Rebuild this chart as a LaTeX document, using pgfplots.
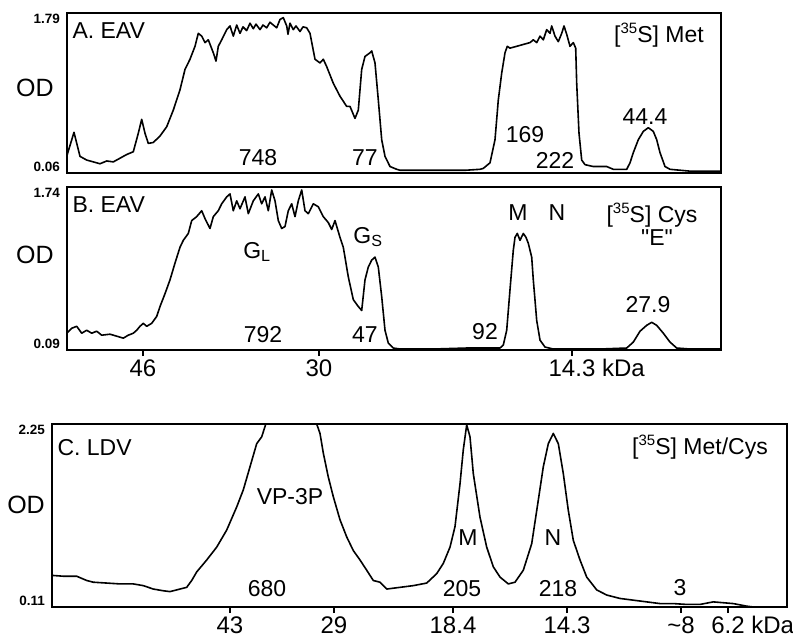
\documentclass[border=0pt]{standalone}
\usepackage{fontspec}
\setmainfont{Liberation Sans}
\newfontfamily\qfont{Liberation Sans}[Ligatures=TeXOff]
\usepackage{pgfplots}
\pgfplotsset{compat=1.18}
\newcommand\lab{\fontsize{23}{23}\selectfont}
\newcommand\num{\fontsize{23}{23}\selectfont}
\newcommand\odf{\fontsize{25}{25}\selectfont}
\newcommand\supx[1]{\raisebox{0.42em}{\fontsize{15}{15}\selectfont #1}}
\begin{document}
\begin{tikzpicture}
\useasboundingbox (0pt,-640pt) rectangle (793pt,0pt);
\pgfplotsset{
  panel/.style={
    scale only axis,
    axis line style={line width=1.6pt},
    xtick style={line width=1.2pt, black},
    ytick style={draw=none},
    xtick pos=bottom,
    tick align=outside,
    major tick length=6pt,
    /pgf/number format/assume math mode=true,
    yticklabel style={font=\fontsize{13.5}{13.5}\selectfont\bfseries, inner sep=1pt, anchor=south east},
    extra y tick style={yticklabel style={anchor=north east}},
    xticklabel style={font=\fontsize{24}{24}\selectfont},
    cycle list={{black}},
    every axis plot/.append style={line width=1.6pt, line join=round},
  }
}
% Panel A
\begin{axis}[panel, at={(67pt,-173pt)}, anchor=south west, width=654pt, height=160pt,
  xmin=67, xmax=721, ymin=0.06, ymax=1.79, xtick=\empty,
  ytick={0.06}, yticklabels={0.06}, extra y ticks={1.79}, extra y tick labels={1.79}]
\addplot coordinates {(66.7,0.24)(74,0.50)(80,0.24)(86.7,0.20)(100,0.16)(106.7,0.19)(113.3,0.18)(126.7,0.26)(133.3,0.29)(138.3,0.49)(141.7,0.64)(145,0.49)(148.3,0.38)(153.3,0.39)(160,0.46)(166.7,0.56)(173.3,0.74)(180,0.96)(185,1.18)(190,1.29)(195,1.43)(198.3,1.57)(201.7,1.54)(205,1.47)(208.3,1.50)(213.3,1.36)(216,1.27)(218.3,1.43)(221.7,1.50)(226.7,1.61)(230,1.65)(233.3,1.54)(236.7,1.66)(240,1.57)(243,1.64)(246.7,1.60)(250,1.68)(253.3,1.62)(256,1.67)(260,1.61)(263,1.66)(266.7,1.63)(270,1.69)(273.3,1.66)(276.7,1.63)(280,1.72)(283.3,1.74)(286.7,1.65)(288,1.56)(290,1.68)(293.3,1.61)(296,1.65)(300,1.59)(303,1.64)(306.7,1.63)(310,1.57)(315,1.29)(320,1.25)(323.3,1.29)(326.7,1.21)(333.3,1.03)(340,0.89)(346.7,0.78)(350,0.78)(355,0.65)(358.3,0.74)(361.7,1.18)(365,1.32)(370,1.36)(371.7,1.38)(375,1.25)(378.3,0.85)(381.7,0.42)(385,0.24)(390,0.13)(396.7,0.10)(400,0.09)(433,0.09)(466,0.09)(480,0.10)(483.3,0.11)(490,0.17)(495,0.42)(498.3,0.85)(501.7,1.14)(505,1.36)(507.3,1.43)(510,1.41)(516.7,1.43)(523.3,1.45)(530,1.47)(533.3,1.50)(536.7,1.47)(540,1.54)(543.3,1.50)(546.7,1.61)(550,1.57)(551.7,1.65)(555,1.54)(558.3,1.48)(561.7,1.57)(564,1.65)(566.7,1.56)(570,1.43)(573.3,1.47)(575.7,1.41)(576.7,1.03)(579,0.49)(581.7,0.20)(585,0.15)(593.3,0.13)(606.7,0.13)(613.3,0.10)(626.7,0.10)(630,0.17)(633.3,0.28)(638.3,0.42)(643.3,0.51)(648.3,0.55)(653.3,0.51)(656.7,0.42)(660,0.28)(665,0.13)(670,0.10)(680,0.09)(690,0.08)(720,0.08)};
\end{axis}
% Panel B
\begin{axis}[panel, at={(67pt,-350pt)}, anchor=south west, width=654pt, height=163pt,
  xmin=67, xmax=721, ymin=0.09, ymax=1.74,
  xtick={143,319,572}, xticklabels={46,30,14.3\rlap{ kDa}},
  ytick={0.09}, yticklabels={0.09}, extra y ticks={1.74}, extra y tick labels={1.74}]
\addplot coordinates {(66.7,0.26)(71.7,0.31)(76.7,0.33)(81.7,0.26)(86.7,0.29)(91.7,0.26)(96.7,0.28)(101.7,0.24)(110,0.25)(116.7,0.23)(123.3,0.21)(128.3,0.24)(133.3,0.26)(136.7,0.29)(140,0.33)(143.3,0.36)(146.7,0.33)(151.7,0.36)(156.7,0.43)(160,0.53)(165,0.66)(170,0.80)(175,0.97)(180,1.13)(183.3,1.20)(188.3,1.27)(191.7,1.40)(196.7,1.44)(201.7,1.50)(205,1.42)(210,1.32)(213.3,1.44)(218.3,1.50)(221.7,1.57)(226.7,1.64)(230,1.67)(233.3,1.50)(236.7,1.60)(240,1.52)(245,1.64)(248.3,1.47)(253.3,1.60)(258.3,1.67)(261.7,1.57)(265,1.64)(268.3,1.50)(271.7,1.71)(275,1.60)(278.3,1.40)(281.7,1.32)(285,1.34)(288.3,1.50)(291.7,1.57)(295,1.44)(298.3,1.60)(301.7,1.71)(305,1.50)(308.3,1.47)(313.3,1.57)(318.3,1.54)(323.3,1.44)(328.3,1.38)(331.7,1.31)(335,1.40)(340,1.23)(343.3,1.13)(348.3,0.83)(353.3,0.60)(358.3,0.53)(361.7,0.49)(365,0.80)(368.3,0.93)(371.7,1.00)(375,1.03)(378.3,0.93)(381.7,0.63)(385,0.29)(388.3,0.16)(393.3,0.11)(400,0.10)(433.3,0.10)(466.7,0.11)(500,0.11)(503.3,0.14)(506.7,0.29)(510,0.70)(513.3,1.10)(515,1.23)(517.3,1.27)(520,1.20)(523.3,1.27)(526,1.23)(528.3,1.17)(531.7,1.03)(533.3,0.80)(536.7,0.39)(540,0.19)(545,0.12)(553.3,0.10)(573.3,0.10)(600,0.10)(626.7,0.11)(633.3,0.17)(640,0.28)(646.7,0.34)(651.7,0.37)(656.7,0.34)(663.3,0.26)(670,0.17)(676.7,0.11)(690,0.10)(720,0.10)};
\end{axis}
% Panel C
\begin{axis}[panel, at={(52pt,-607pt)}, anchor=south west, width=735pt, height=183pt,
  xmin=52, xmax=787, ymin=0.11, ymax=2.25,
  xtick={230,334,453,567,681,728}, xticklabels={43,29,18.4,14.3,{\char`~}8,6.2\rlap{ kDa}},
  ytick={0.11}, yticklabels={0.11}, extra y ticks={2.25}, extra y tick labels={2.25}]
\addplot coordinates {(51.7,0.48)(63.3,0.47)(76.7,0.47)(86.7,0.42)(93.3,0.40)(106.7,0.39)(120,0.38)(133.3,0.38)(143.3,0.36)(153.3,0.32)(163.3,0.30)(170,0.29)(180,0.32)(186.7,0.34)(191.7,0.42)(196.7,0.52)(206.7,0.66)(216.7,0.81)(226.7,1.01)(236.7,1.28)(243.3,1.48)(250,1.75)(256.7,2.02)(261.7,2.10)(265,2.22)(268,2.35)(290,2.60)(314,2.35)(316.7,2.25)(320,2.14)(323.3,1.91)(328.3,1.63)(333.3,1.40)(340,1.13)(346.7,0.93)(353.3,0.77)(360,0.66)(366.7,0.54)(373.3,0.42)(380,0.40)(386.7,0.32)(393.3,0.33)(400,0.34)(413.3,0.36)(426.7,0.39)(436.7,0.50)(443.3,0.62)(450,0.81)(455,1.05)(460,1.55)(463.3,1.95)(466.7,2.24)(470,2.10)(473.3,1.67)(480,1.16)(486.7,0.81)(493.3,0.58)(500,0.46)(508.3,0.38)(515,0.40)(523.3,0.54)(531.7,0.85)(538.3,1.36)(543.3,1.75)(548.3,2.02)(553.3,2.14)(558.3,2.02)(563.3,1.67)(568.3,1.24)(573.3,0.89)(580,0.66)(586.7,0.46)(596.7,0.31)(606.7,0.25)(620,0.21)(633.3,0.19)(646.7,0.17)(660,0.15)(673.3,0.15)(686.7,0.14)(700,0.14)(713.3,0.17)(723.3,0.16)(733.3,0.15)(746.7,0.12)(753.3,0.11)(786.7,0.11)};
\end{axis}
% Texts
\node[anchor=west, font=\lab] at (69pt,-31pt) {A. EAV};
\node[font=\odf] at (35pt,-88pt) {OD};
\node[font=\num] at (258pt,-158pt) {748};
\node[font=\num] at (365pt,-158pt) {77};
\node[font=\num] at (525pt,-135pt) {169};
\node[font=\num] at (555pt,-160pt) {222};
\node[font=\num] at (645pt,-117pt) {44.4};
\node[font=\lab] at (659pt,-35pt) {[\supx{35}S] Met};
\node[anchor=west, font=\lab] at (69pt,-205pt) {B. EAV};
\node[font=\odf] at (35pt,-255pt) {OD};
\node[font=\lab] at (257pt,-252pt) {G\textsubscript{L}};
\node[font=\num] at (263pt,-335pt) {792};
\node[font=\lab] at (368pt,-237pt) {G\textsubscript{S}};
\node[font=\num] at (365pt,-335pt) {47};
\node[font=\lab] at (518pt,-213pt) {M};
\node[font=\lab] at (557pt,-213pt) {N};
\node[font=\lab] at (652pt,-215pt) {[\supx{35}S] Cys};
\node[font=\lab] at (657pt,-238pt) {\qfont "E"};
\node[font=\num] at (648pt,-305pt) {27.9};
\node[font=\num] at (485pt,-332pt) {92};
\node[anchor=west, font=\lab] at (54pt,-448pt) {C. LDV};
\node[font=\odf] at (26pt,-505pt) {OD};
\node[font=\lab] at (290pt,-497pt) {VP-3P};
\node[font=\num] at (267pt,-589pt) {680};
\node[font=\lab] at (468pt,-538pt) {M};
\node[font=\lab] at (553pt,-538pt) {N};
\node[font=\num] at (462pt,-589pt) {205};
\node[font=\num] at (558pt,-589pt) {218};
\node[font=\num] at (680pt,-588pt) {3};
\node[font=\lab] at (700pt,-447pt) {[\supx{35}S] Met/Cys};
\end{tikzpicture}
\end{document}
